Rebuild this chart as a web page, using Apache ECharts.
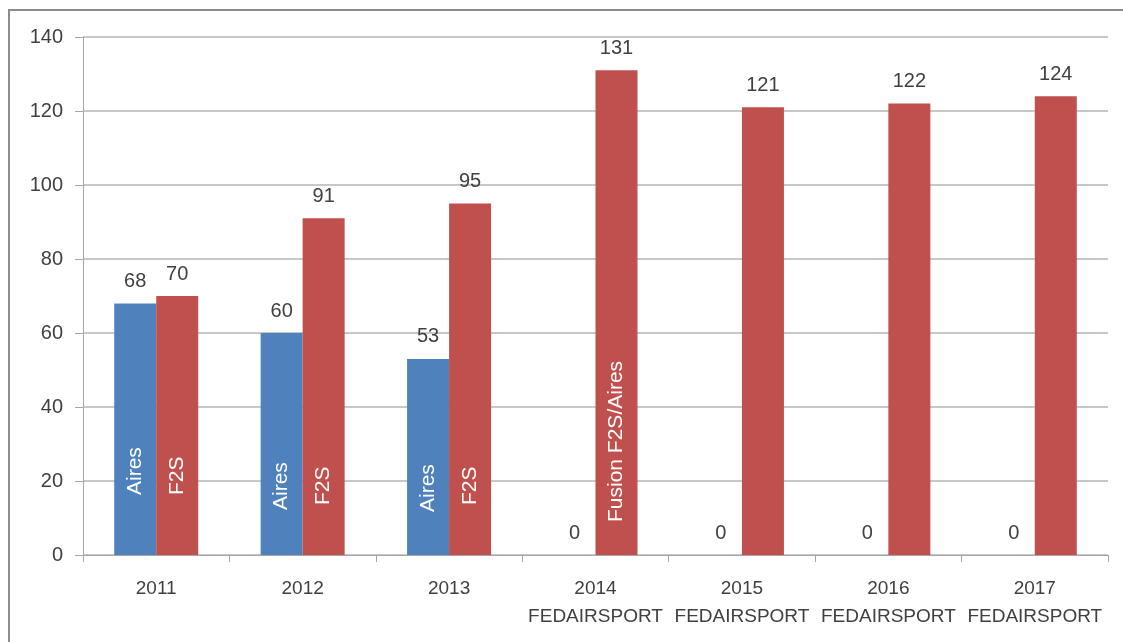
<!DOCTYPE html>
<html>
<head>
<meta charset="UTF-8">
<title></title>
<script src="https://cdn.jsdelivr.net/npm/echarts@6/dist/echarts.min.js"></script>
<style>
    html, body { margin: 0; padding: 0; background: #fff; }
    #frame { position: absolute; left: 8px; top: 9px; width: 1130px; height: 650px;
             border-top: 2px solid #8c8c8c; border-left: 2px solid #8c8c8c; }
    #content { position: absolute; left: 0; top: 0; width: 1123px; height: 642px; }
</style>
</head>
<body>
<div id="frame"></div>
<div id="content"></div>
<script>
    var years = ['2011', '2012', '2013', '2014\nFEDAIRSPORT', '2015\nFEDAIRSPORT', '2016\nFEDAIRSPORT', '2017\nFEDAIRSPORT'];
    var aires = [68, 60, 53, 0, 0, 0, 0];
    var f2s = [70, 91, 95, 131, 121, 122, 124];
    var airesText = ['Aires', 'Aires', 'Aires', '', '', '', ''];
    var f2sText = ['F2S', 'F2S', 'F2S', 'Fusion F2S/Aires', '', '', ''];
    var yTicks = [0, 20, 40, 60, 80, 100, 120, 140];

    // how far above the axis the white text starts
    var airesLift = [60, 45, 43, 0, 0, 0, 0];
    var f2sLift = [60, 50, 50, 33, 0, 0, 0];

    var txt = '#404040';
    var font = 'Liberation Sans';

    // the bar itself, with the rotated white name inside
    function barSeries(stack, vals, names, lift, color) {
        return {
            type: 'bar',
            stack: stack,
            barWidth: 42,
            barGap: '0%',
            itemStyle: { color: color },
            data: vals.map(function (v, i) {
                return {
                    value: v,
                    label: {
                        show: names[i] !== '',
                        formatter: names[i],
                        position: 'insideBottom',
                        rotate: 90,
                        align: 'left',
                        verticalAlign: 'middle',
                        distance: lift[i],
                        color: '#ffffff',
                        fontFamily: font,
                        fontSize: 21
                    }
                };
            })
        };
    }

    // zero-height cap on the same stack, carrying the value above the bar
    function capSeries(stack, vals) {
        return {
            type: 'bar',
            stack: stack,
            barWidth: 42,
            barGap: '0%',
            silent: true,
            itemStyle: { color: 'rgba(0,0,0,0)' },
            label: {
                show: true,
                position: 'top',
                distance: 12,
                color: txt,
                fontFamily: font,
                fontSize: 20,
                formatter: function (p) { return vals[p.dataIndex]; }
            },
            data: vals.map(function () { return 0; })
        };
    }

    var myChart = echarts.init(document.getElementById('content'));

    var option = {
        animation: false,
        grid: { left: 83, right: 15, top: 37, bottom: 87 },
        xAxis: {
            type: 'category',
            data: years,
            axisLine: { lineStyle: { color: '#a6a6a6', width: 1 } },
            axisTick: { show: true, length: 7, lineStyle: { color: '#a6a6a6' } },
            axisLabel: {
                color: txt,
                fontFamily: font,
                fontSize: 19,
                lineHeight: 28,
                margin: 20,
                interval: 0
            }
        },
        yAxis: {
            type: 'value',
            min: yTicks[0],
            max: yTicks[yTicks.length - 1],
            interval: 20,
            axisLine: { show: true, lineStyle: { color: '#a6a6a6', width: 1 } },
            axisTick: { show: true, length: 8, lineStyle: { color: '#a6a6a6' } },
            axisLabel: { color: txt, fontFamily: font, fontSize: 20, margin: 20 },
            splitLine: { lineStyle: { color: '#c8c8c8', width: 2 } }
        },
        series: [
            barSeries('aires', aires, airesText, airesLift, '#4f81bd'),
            capSeries('aires', aires),
            barSeries('f2s', f2s, f2sText, f2sLift, '#c0504d'),
            capSeries('f2s', f2s)
        ]
    };

    myChart.setOption(option);
</script>
</body>
</html>
